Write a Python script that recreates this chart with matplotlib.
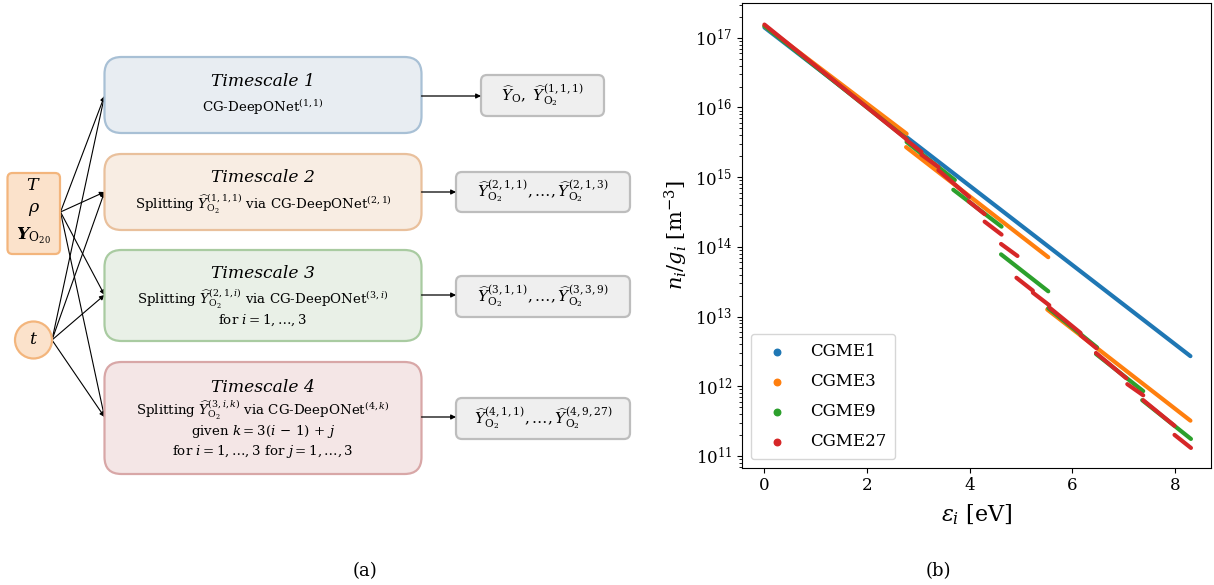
import matplotlib
matplotlib.use("Agg")
import matplotlib.pyplot as plt
from matplotlib.patches import FancyBboxPatch, Circle

plt.rcParams['font.family'] = ['DejaVu Serif']
plt.rcParams['mathtext.fontset'] = 'dejavuserif'

# ---------------- data for panel (b): segments of log-population vs energy ----------------
series_labels = ["CGME1", "CGME3", "CGME9", "CGME27"]
series_colors = ["#1f77b4", "#ff7f0e", "#2ca02c", "#d62728"]

cgme1_e0 = [0.0]
cgme1_e1 = [8.30]
cgme1_n0 = [1.41e17]
cgme1_n1 = [2.7e12]

cgme3_e0 = [0.0, 2.76, 5.51]
cgme3_e1 = [2.77, 5.53, 8.30]
cgme3_n0 = [1.48e17, 2.7e15, 1.26e13]
cgme3_n1 = [4.2e15, 7.1e13, 3.2e11]

cgme9_e0 = [0.0, 2.77, 3.68, 4.61, 5.53, 6.46, 7.36]
cgme9_e1 = [2.77, 3.71, 4.62, 5.53, 6.48, 7.38, 8.31]
cgme9_n0 = [1.48e17, 3.2e15, 6.6e14, 7.8e13, 1.32e13, 2.9e12, 6.3e11]
cgme9_n1 = [3.55e15, 9.1e14, 1.95e14, 2.3e13, 3.6e12, 8.5e11, 1.75e11]

cgme27_e0 = [0.0, 2.77, 3.06, 3.39, 3.98, 4.29, 4.61, 4.91, 5.23, 5.55, 6.16, 6.46, 7.07, 7.38, 7.99]
cgme27_e1 = [2.77, 3.06, 3.39, 3.99, 4.29, 4.62, 4.93, 5.23, 5.55, 6.16, 6.47, 7.05, 7.38, 7.99, 8.31]
cgme27_n0 = [1.55e17, 3.4e15, 2.1e15, 1.26e15, 4.5e14, 2.3e14, 1.1e14, 3.6e13, 2.2e13,
             1.35e13, 5.4e12, 3.0e12, 1.07e12, 6.3e11, 2.0e11]
cgme27_n1 = [3.5e15, 2.3e15, 1.4e15, 5.2e14, 2.95e14, 1.5e14, 7.4e13, 2.35e13, 1.45e13,
             5.8e12, 3.5e12, 1.3e12, 7.4e11, 2.7e11, 1.3e11]

series_e0 = [cgme1_e0, cgme3_e0, cgme9_e0, cgme27_e0]
series_e1 = [cgme1_e1, cgme3_e1, cgme9_e1, cgme27_e1]
series_n0 = [cgme1_n0, cgme3_n0, cgme9_n0, cgme27_n0]
series_n1 = [cgme1_n1, cgme3_n1, cgme9_n1, cgme27_n1]

x_ticks = [0, 2, 4, 6, 8]

# ---------------- panel (a) texts ----------------
timescale_titles = ["Timescale 1", "Timescale 2", "Timescale 3", "Timescale 4"]
timescale_lines = [
    [r"CG-DeepONet$^{(1,1)}$"],
    [r"Splitting $\widehat{Y}^{(1,1,1)}_{\mathrm{O}_2}$ via CG-DeepONet$^{(2,1)}$"],
    [r"Splitting $\widehat{Y}^{(2,1,i)}_{\mathrm{O}_2}$ via CG-DeepONet$^{(3,i)}$",
     r"for $i=1,\ldots,3$"],
    [r"Splitting $\widehat{Y}^{(3,i,k)}_{\mathrm{O}_2}$ via CG-DeepONet$^{(4,k)}$",
     r"given $k=3(i\,-\,1)\,+\,j$",
     r"for $i=1,\ldots,3$ for $j=1,\ldots,3$"],
]
output_texts = [
    r"$\widehat{Y}_{\mathrm{O}},\ \widehat{Y}^{(1,1,1)}_{\mathrm{O}_2}$",
    r"$\widehat{Y}^{(2,1,1)}_{\mathrm{O}_2},\ldots,\widehat{Y}^{(2,1,3)}_{\mathrm{O}_2}$",
    r"$\widehat{Y}^{(3,1,1)}_{\mathrm{O}_2},\ldots,\widehat{Y}^{(3,3,9)}_{\mathrm{O}_2}$",
    r"$\widehat{Y}^{(4,1,1)}_{\mathrm{O}_2},\ldots,\widehat{Y}^{(4,9,27)}_{\mathrm{O}_2}$",
]
input_texts = [r"$T$", r"$\rho$", r"$\boldsymbol{Y}_{\mathrm{O}_{20}}$"]

fig = plt.figure(figsize=(12.14, 5.85), dpi=100)

# ---------------- diagram overlay (pixel coordinates) ----------------
ax0 = fig.add_axes([0, 0, 1, 1])
ax0.set_xlim(0, 1214)
ax0.set_ylim(585, 0)
ax0.axis('off')

ts_fill = ["#e8edf2", "#f8ede3", "#e9f0e7", "#f4e6e6"]
ts_edge = ["#a8c0d5", "#e9c09c", "#a9cba1", "#d8a7a7"]
ts_top = [57, 154, 250, 362]
ts_bot = [133, 230, 341, 474]
ts_left, ts_right = 104.5, 421.5
ts_arrow_y = [96, 192, 295, 417]
ts_text_y = [[82, 107], [178, 204], [274, 299, 320], [387, 410, 431, 451]]

out_left = [481, 456, 456, 456]
out_right = [604, 630, 630, 630]
out_top = [75, 172, 276, 398]
out_bot = [116, 212, 317, 439]

for i in range(4):
    bx = FancyBboxPatch((ts_left, ts_top[i]), ts_right - ts_left, ts_bot[i] - ts_top[i],
                        boxstyle="round,pad=0,rounding_size=17",
                        fc=ts_fill[i], ec=ts_edge[i], lw=1.6, zorder=2)
    ax0.add_patch(bx)
    cx = (ts_left + ts_right) / 2
    ys = ts_text_y[i]
    ax0.text(cx, ys[0], timescale_titles[i], ha='center', va='center',
             fontsize=12.3, style='italic', zorder=3)
    for j, ln in enumerate(timescale_lines[i]):
        ax0.text(cx, ys[j + 1], ln, ha='center', va='center', fontsize=9.6, zorder=3)

    ob = FancyBboxPatch((out_left[i], out_top[i]), out_right[i] - out_left[i],
                        out_bot[i] - out_top[i],
                        boxstyle="round,pad=0,rounding_size=6",
                        fc="#efefef", ec="#bdbdbd", lw=1.6, zorder=2)
    ax0.add_patch(ob)
    ocx = (out_left[i] + out_right[i]) / 2
    ax0.text(ocx, (out_top[i] + out_bot[i]) / 2, output_texts[i], ha='center', va='center',
             fontsize=11, zorder=3)
    ax0.annotate('', xy=(out_left[i], ts_arrow_y[i]), xytext=(ts_right, ts_arrow_y[i]),
                 arrowprops=dict(arrowstyle='-|>', color='black', lw=0.9,
                                 mutation_scale=7, shrinkA=0, shrinkB=0), zorder=3)

# inputs
inb = FancyBboxPatch((7.5, 173), 52.5, 81, boxstyle="round,pad=0,rounding_size=5",
                     fc="#fbe2cb", ec="#f3b57c", lw=1.6, zorder=2)
ax0.add_patch(inb)
for t, yy in zip(input_texts, [186, 210, 236]):
    ax0.text(33.7, yy, t, ha='center', va='center', fontsize=12.5, zorder=3)
circ = Circle((33.5, 340), 18.5, fc="#fbe2cb", ec="#f3b57c", lw=1.6, zorder=2)
ax0.add_patch(circ)
ax0.text(33.5, 340, r"$t$", ha='center', va='center', fontsize=12.5, zorder=3)

for src in [(60.5, 212), (52, 340)]:
    for yy in ts_arrow_y:
        ax0.annotate('', xy=(ts_left, yy), xytext=src,
                     arrowprops=dict(arrowstyle='-|>', color='black', lw=0.8,
                                     mutation_scale=7, shrinkA=0, shrinkB=0), zorder=1)

ax0.text(365, 571, "(a)", ha='center', va='center', fontsize=13)
ax0.text(938, 571, "(b)", ha='center', va='center', fontsize=13)

# ---------------- panel (b) ----------------
ax = fig.add_axes([0.6115, 0.2005, 0.386, 0.7944])
ax.set_yscale('log')
for k in range(4):
    for a, b, c, d in zip(series_e0[k], series_e1[k], series_n0[k], series_n1[k]):
        ax.plot([a, b], [c, d], color=series_colors[k], lw=3.0,
                solid_capstyle='round', zorder=2 + k)
ax.set_xlim(-0.43, 8.70)
ax.set_ylim(10 ** 10.83, 10 ** 17.5)
ax.set_xticks(x_ticks)
ax.tick_params(axis='both', labelsize=12)
ax.set_xlabel(r"$\epsilon_i\ [\mathrm{eV}]$", fontsize=16, labelpad=6)
ax.set_ylabel(r"$n_i/g_i\ [\mathrm{m}^{-3}]$", fontsize=15)

handles = [ax.scatter([], [], color=c, s=22) for c in series_colors]
ax.legend(handles, series_labels, loc='lower left', fontsize=12,
          labelspacing=0.78, borderpad=0.55, handletextpad=1.0)

fig.savefig("out.png", dpi=100)
